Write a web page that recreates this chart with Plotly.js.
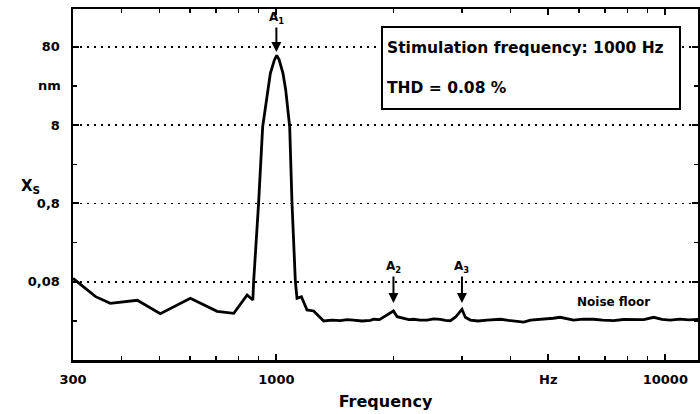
<!DOCTYPE html>
<html>
<head>
<meta charset="utf-8">
<script src="https://cdn.plot.ly/plotly-3.0.1.min.js"></script>
<style>html,body{margin:0;padding:0;background:#fff;}#chart{width:700px;height:414px;}</style>
</head>
<body>
<div id="chart"></div>
<script>
// Spectrum (frequency in Hz, amplitude X_S in nm)
const freq = [300, 343, 374, 439, 503, 601, 704, 777, 841, 870, 874, 900, 922, 937, 950, 965, 988, 1002, 1016, 1040, 1057, 1069, 1082, 1097, 1119, 1130, 1160, 1199, 1247, 1323, 1390, 1461, 1520, 1578, 1660, 1745, 1779, 1840, 1907, 1960, 2000, 2044, 2125, 2190, 2254, 2340, 2440, 2540, 2640, 2720, 2801, 2885, 3000, 3061, 3152, 3300, 3481, 3620, 3767, 3950, 4150, 4325, 4500, 4700, 4963, 5150, 5368, 5580, 5808, 6150, 6538, 6900, 7363, 7800, 8290, 8800, 9334, 9800, 10300, 10900, 11500, 12150];
const amp = [0.088, 0.0515, 0.0424, 0.0463, 0.0312, 0.0491, 0.0335, 0.0316, 0.0541, 0.0467, 0.08, 0.8, 7.6, 13.7, 22.4, 36.6, 54, 62, 55, 36.6, 22.4, 13.7, 7.6, 0.8, 0.08, 0.049, 0.0515, 0.0348, 0.0338, 0.0252, 0.0258, 0.0254, 0.0262, 0.0259, 0.0252, 0.0256, 0.0265, 0.0262, 0.0292, 0.032, 0.0338, 0.0286, 0.0273, 0.0262, 0.0265, 0.0258, 0.0259, 0.0268, 0.0265, 0.0256, 0.0254, 0.0281, 0.0355, 0.0281, 0.0259, 0.0252, 0.0259, 0.0264, 0.0265, 0.0256, 0.025, 0.0244, 0.0258, 0.0262, 0.0265, 0.0273, 0.0281, 0.0268, 0.0259, 0.0266, 0.0265, 0.0258, 0.0254, 0.0263, 0.0265, 0.0262, 0.0281, 0.0265, 0.0259, 0.0266, 0.026, 0.0265];

// Axis ticks
const xTickVals = [300, 1000, 5000, 10000];
const xTickText = ['300', '1000', 'Hz', '10000'];
const xMinorVals = [400, 500, 600, 700, 800, 900, 2000, 3000, 4000, 6000, 7000, 8000, 9000];
const yTickVals = [0.08, 0.8, 8, 80];
const yTickText = ['0,08', '0,8', '8', '80'];
const yMinorVals = [0.0253, 0.253, 2.53, 25.3];
const yUnitLabel = 'nm';
const yUnitAt = 25.3;

// Harmonic markers: label, frequency, arrow-tip amplitude
const harmLabels = ['A<sub>1</sub>', 'A<sub>2</sub>', 'A<sub>3</sub>'];
const harmFreq = [1000, 2000, 3000];
const harmTip = [68.5, 0.0427, 0.0427];

const boxText = 'Stimulation frequency: 1000 Hz<br><br>THD = 0.08 %';
const noiseText = 'Noise floor';
const noiseAt = [7350, 0.0441];

const FONT = 'DejaVu Sans, Arial, sans-serif';

const annotations = [];
for (let i = 0; i < harmLabels.length; i++) {
  annotations.push({
    x: Math.log10(harmFreq[i]), y: Math.log10(harmTip[i]), xref: 'x', yref: 'y',
    text: harmLabels[i], showarrow: true, arrowhead: 2, arrowsize: 1, arrowwidth: 2,
    arrowcolor: '#000', ax: 0, ay: (i === 0 ? -34 : -36),
    font: {family: FONT, size: 12, color: '#000', weight: 'bold'}
  });
}
annotations.push({
  x: Math.log10(noiseAt[0]), y: Math.log10(noiseAt[1]), xref: 'x', yref: 'y',
  text: noiseText, showarrow: false,
  font: {family: FONT, size: 12, color: '#000', weight: 'bold'}
});
annotations.push({
  x: 0.493, y: 0.951, xref: 'paper', yref: 'paper', xanchor: 'left', yanchor: 'top',
  text: boxText, showarrow: false, align: 'left', valign: 'middle',
  width: 288, height: 72, borderpad: 4, bordercolor: '#000', borderwidth: 2, bgcolor: '#fff',
  font: {family: FONT, size: 15.5, color: '#000', weight: 'bold'}
});
annotations.push({
  x: 0, y: Math.log10(yUnitAt), xref: 'paper', yref: 'y', xanchor: 'right', xshift: -10,
  text: yUnitLabel, showarrow: false,
  font: {family: FONT, size: 13, color: '#000', weight: 'bold'}
});
annotations.push({
  x: 0, y: 0.5, xref: 'paper', yref: 'paper', xanchor: 'center', xshift: -43, yshift: -2,
  text: 'X<sub>S</sub>', showarrow: false,
  font: {family: FONT, size: 15, color: '#000', weight: 'bold'}
});

const trace = {
  x: freq, y: amp, type: 'scatter', mode: 'lines',
  line: {color: '#000', width: 2.8, shape: 'linear'},
  hoverinfo: 'skip'
};

const layout = {
  width: 700, height: 414,
  margin: {l: 73, r: 2, t: 9, b: 54},
  paper_bgcolor: '#fff', plot_bgcolor: '#fff',
  showlegend: false,
  font: {family: FONT, color: '#000'},
  xaxis: {
    type: 'log', range: [Math.log10(300), 4.084],
    tickmode: 'array', tickvals: xTickVals, ticktext: xTickText,
    ticks: 'inside', ticklen: 6, tickwidth: 2, tickcolor: '#000',
    ticklabelstandoff: 6,
    showline: true, linecolor: '#000', linewidth: 2.5, mirror: 'ticks',
    showgrid: false, zeroline: false,
    minor: {tickvals: xMinorVals, ticks: 'inside', ticklen: 4, tickwidth: 1.5, tickcolor: '#000', showgrid: false},
    tickfont: {family: FONT, size: 13, color: '#000', weight: 'bold'},
    title: {text: 'Frequency', font: {family: FONT, size: 16, color: '#000', weight: 'bold'}, standoff: 10}
  },
  yaxis: {
    type: 'log', range: [-2.097, 2.386],
    tickmode: 'array', tickvals: yTickVals, ticktext: yTickText,
    ticks: 'inside', ticklen: 6, tickwidth: 2, tickcolor: '#000',
    ticklabelstandoff: 8,
    showline: true, linecolor: '#000', linewidth: 2.5, mirror: 'ticks',
    showgrid: true, gridcolor: '#000', gridwidth: 1.6, griddash: '2px,5px',
    zeroline: false,
    minor: {tickvals: yMinorVals, ticks: 'inside', ticklen: 4, tickwidth: 1.5, tickcolor: '#000', showgrid: false},
    tickfont: {family: FONT, size: 13, color: '#000', weight: 'bold'}
  },
  annotations: annotations
};

Plotly.newPlot('chart', [trace], layout, {displayModeBar: false, staticPlot: true});
</script>
</body>
</html>
